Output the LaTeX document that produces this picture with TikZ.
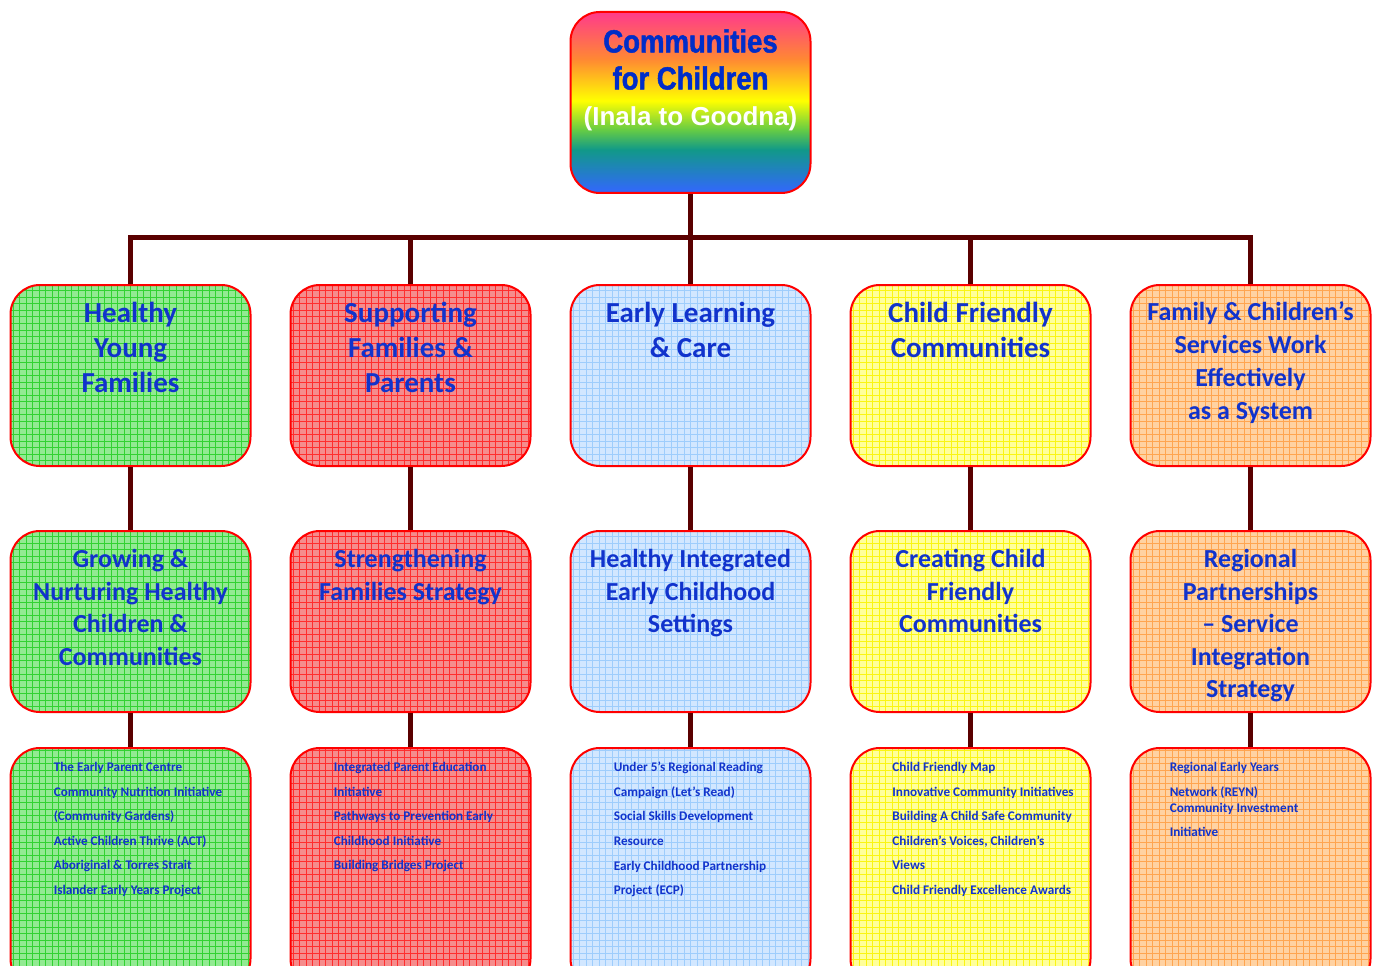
\documentclass[tikz,border=0pt]{standalone}
\usepackage{fontspec}
\setmainfont{Carlito}
\newfontfamily\headfont{Liberation Sans}[FakeStretch=0.86, BoldFeatures={FakeBold=1.5}]
\newfontfamily\subfont{Liberation Sans}
\usetikzlibrary{positioning}
\definecolor{txtblue}{RGB}{17,51,204}
\definecolor{titleblue}{RGB}{0,45,200}
\definecolor{link}{RGB}{90,0,0}
\definecolor{gfill}{RGB}{146,234,146}
\definecolor{ggrid}{RGB}{50,210,50}
\definecolor{rfill}{RGB}{245,140,140}
\definecolor{rgrid}{RGB}{255,45,45}
\definecolor{bfill}{RGB}{210,231,255}
\definecolor{bgrid}{RGB}{158,205,252}
\definecolor{yfill}{RGB}{255,255,155}
\definecolor{ygrid}{RGB}{250,245,20}
\definecolor{ofill}{RGB}{255,210,162}
\definecolor{ogrid}{RGB}{255,165,80}
\definecolor{rbpink}{RGB}{255,58,140}
\definecolor{rborange}{RGB}{255,136,51}
\definecolor{rbyellow}{RGB}{255,255,0}
\definecolor{rbgreen}{RGB}{102,204,68}
\definecolor{rbteal}{RGB}{17,153,136}
\definecolor{rbblue}{RGB}{51,102,255}
\pgfdeclareverticalshading{rainbow}{100bp}{color(0bp)=(rbblue); color(25bp)=(rbblue); color(37bp)=(rbteal); color(42.5bp)=(rbgreen); color(50.5bp)=(rbyellow); color(62bp)=(rborange); color(75bp)=(rbpink); color(100bp)=(rbpink)}

\begin{document}
\begin{tikzpicture}[
    x=0.75pt, y=-0.75pt,
    box/.style={rectangle, rounded corners=22pt, draw=red, line width=1.5pt, minimum width=180pt, minimum height=135.75pt},
    tallbox/.style={box, minimum height=180pt},
    gridbox/.style 2 args={fill=#1, path picture={\draw[#2, line width=0.4pt, step=4.9pt] (path picture bounding box.south west) grid (path picture bounding box.north east);}},
    greenbox/.style={gridbox={gfill}{ggrid}},
    redbox/.style={gridbox={rfill}{rgrid}},
    bluebox/.style={gridbox={bfill}{bgrid}},
    yellowbox/.style={gridbox={yfill}{ygrid}},
    orangebox/.style={gridbox={ofill}{ogrid}},
    goal/.style={text=txtblue, align=center, inner sep=0pt, font=\fontsize{21.75}{26.25}\selectfont\bfseries},
    strategy/.style={text=txtblue, align=center, inner sep=0pt, font=\fontsize{19.5}{24.4}\selectfont\bfseries},
    project/.style={text=txtblue, align=left, inner sep=0pt, font=\fontsize{9.9}{18.4}\selectfont\bfseries},
    connector/.style={draw=link, line width=3.75pt}
]
\useasboundingbox (0,0) rectangle (1380,966);
\clip (0,0) rectangle (1380,966);

% top
\node[box, shading=rainbow] (ccc) at (690.5,102.5) {};
\node[text=titleblue, align=center, inner sep=0pt, font=\fontsize{24}{27.75}\selectfont\headfont\bfseries, below=13.5pt of ccc.north] (ccc-t) {Communities\\for Children};
\node[text=white, inner sep=0pt, font=\fontsize{19.5}{22}\selectfont\subfont\bfseries, below=12.5pt of ccc-t] (ccc-s) {(Inala to Goodna)};

% goals
\node[box, greenbox] (hyf) at (130.5,375.5) {};
\node[box, redbox] (sfp) at (410.5,375.5) {};
\node[box, bluebox] (elc) at (690.5,375.5) {};
\node[box, yellowbox] (cfc) at (970.5,375.5) {};
\node[box, orangebox] (fcs) at (1250.5,375.5) {};

\node[goal, below=13.5pt of hyf.north] (hyf-t) {Healthy\\Young\\Families};
\node[goal, below=13.5pt of sfp.north] (sfp-t) {Supporting\\Families \&\\Parents};
\node[goal, below=13.5pt of elc.north] (elc-t) {Early Learning\\\& Care};
\node[goal, below=13.5pt of cfc.north] (cfc-t) {Child Friendly\\Communities};
\node[goal, font=\fontsize{19.5}{24.75}\selectfont\bfseries, below=13pt of fcs.north] (fcs-t) {Family \& Children’s\\Services Work\\Effectively\\as a System};

% strategies
\node[box, greenbox] (gnh) at (130.5,621.5) {};
\node[box, redbox] (sfs) at (410.5,621.5) {};
\node[box, bluebox] (hie) at (690.5,621.5) {};
\node[box, yellowbox] (ccf) at (970.5,621.5) {};
\node[box, orangebox] (rps) at (1250.5,621.5) {};

\node[strategy, below=14.25pt of gnh.north] (gnh-t) {Growing \&\\Nurturing Healthy\\Children \&\\Communities};
\node[strategy, below=14.25pt of sfs.north] (sfs-t) {Strengthening\\Families Strategy};
\node[strategy, below=14.25pt of hie.north] (hie-t) {Healthy Integrated\\Early Childhood\\Settings};
\node[strategy, below=14.25pt of ccf.north] (ccf-t) {Creating Child\\Friendly\\Communities};
\node[strategy, below=14.25pt of rps.north] (rps-t) {Regional\\Partnerships\\– Service\\Integration\\Strategy};

% projects
\node[tallbox, greenbox] (hyf-p) at (130.5,868) {};
\node[tallbox, redbox] (sfp-p) at (410.5,868) {};
\node[tallbox, bluebox] (elc-p) at (690.5,868) {};
\node[tallbox, yellowbox] (cfc-p) at (970.5,868) {};
\node[tallbox, orangebox] (fcs-p) at (1250.5,868) {};

\node[project, below right=11.25pt and 33pt of hyf-p.north west] (hyf-l) {The Early Parent Centre\\Community Nutrition Initiative\\(Community Gardens)\\Active Children Thrive (ACT)\\Aboriginal \& Torres Strait\\Islander Early Years Project};
\node[project, below right=11.25pt and 33pt of sfp-p.north west] (sfp-l) {Integrated Parent Education\\Initiative\\Pathways to Prevention Early\\Childhood Initiative\\Building Bridges Project};
\node[project, below right=11.25pt and 33pt of elc-p.north west] (elc-l) {Under 5’s Regional Reading\\Campaign (Let’s Read)\\Social Skills Development\\Resource\\Early Childhood Partnership\\Project (ECP)};
\node[project, below right=11.25pt and 32pt of cfc-p.north west] (cfc-l) {Child Friendly Map\\Innovative Community Initiatives\\Building A Child Safe Community\\Children’s Voices, Children’s\\Views\\Child Friendly Excellence Awards};
\node[project, below right=11.25pt and 30pt of fcs-p.north west] (fcs-l) {Regional Early Years\\Network (REYN)\\[-6.4pt]Community Investment\\Initiative};

% connectors
\coordinate (bus) at (690.5,238);
\draw[connector] (ccc.south) -- (bus);
\draw[connector] (hyf.north) -- (hyf.north |- bus) -- (fcs.north |- bus) -- (fcs.north);
\foreach \g in {sfp,elc,cfc} \draw[connector] (\g.north |- bus) -- (\g.north);
\foreach \g/\s in {hyf/gnh,sfp/sfs,elc/hie,cfc/ccf,fcs/rps} \draw[connector] (\g.south) -- (\s.north);
\foreach \s/\p in {gnh/hyf-p,sfs/sfp-p,hie/elc-p,ccf/cfc-p,rps/fcs-p} \draw[connector] (\s.south) -- (\p.north);

\end{tikzpicture}
\end{document}
